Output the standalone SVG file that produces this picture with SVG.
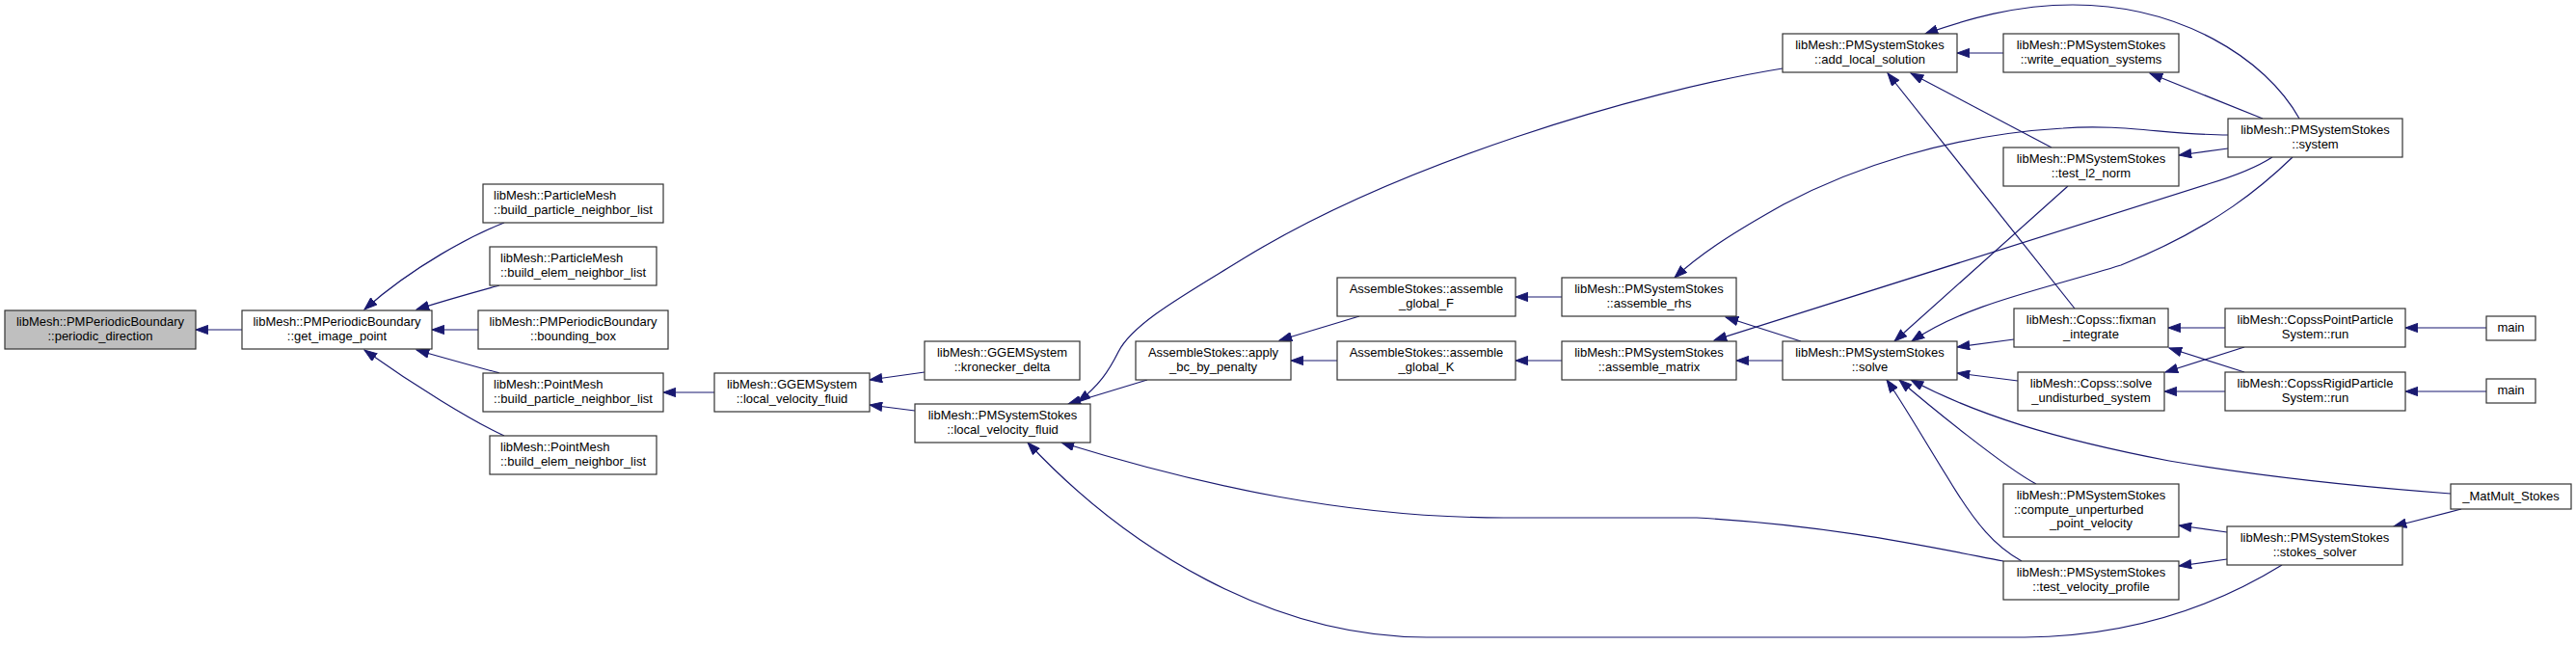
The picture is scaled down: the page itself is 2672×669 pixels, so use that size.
<svg xmlns="http://www.w3.org/2000/svg" width="2672" height="669" viewBox="0 0 2672 669">
<style>
.n rect{fill:#fff;stroke:#333;stroke-width:1.2}
.n.hl rect{fill:#bfbfbf}
.n text{font-family:"Liberation Sans",Arial,Helvetica,sans-serif;font-size:13px;fill:#000;text-anchor:middle}
.n text.l{text-anchor:start}
#edges path{fill:none;stroke:#191970;stroke-width:1.2;marker-end:url(#ah)}
</style>
<defs>
<marker id="ah" markerUnits="userSpaceOnUse" viewBox="0 0 14 10" refX="13.3" refY="5" markerWidth="14" markerHeight="10" orient="auto">
<path d="M0.5,0.4 L13.3,5 L0.5,9.6 z" fill="#191970" stroke="#191970" stroke-width="1"/>
</marker>
</defs>
<rect width="2672" height="669" fill="#fff"/>
<g id="edges">
<path d="M251,342 L203,342"/>
<path d="M523,231 C490,244 430,275 378,321"/>
<path d="M518,296 C500,301 470,309 432,321"/>
<path d="M496,342 L448,342"/>
<path d="M518,387 C500,382 470,374 432,363"/>
<path d="M523,452 C490,437 430,400 378,363"/>
<path d="M741,407 L688,407"/>
<path d="M959,386 L902,394"/>
<path d="M949,426 L902,420"/>
<path d="M1849,71 C1700,95 1450,170 1290,268 C1230,305 1175,335 1160,365 C1150,385 1140,400 1118,417"/>
<path d="M1190,394 L1108,419"/>
<path d="M2078,582 C2000,567 1900,545 1760,537 L1560,537 C1400,537 1250,505 1101,459"/>
<path d="M2367,586 C2320,615 2230,660 2100,661 L1480,661 C1320,661 1170,570 1066,459"/>
<path d="M1410,328 L1327,353"/>
<path d="M1387,374 L1339,374"/>
<path d="M1620,308 L1572,308"/>
<path d="M1620,374 L1572,374"/>
<path d="M1868,354 L1790,329"/>
<path d="M1849,374 L1801,374"/>
<path d="M2357,163 C2340,174 2320,182 2290,191 L1778,353"/>
<path d="M2311,140 C2250,140 2200,128 2140,133 C2020,140 1920,175 1850,212 C1800,240 1765,262 1737,288"/>
<path d="M2145,193 L1965,354"/>
<path d="M2378,163 C2350,190 2300,235 2200,275 C2120,300 2040,315 1983,354"/>
<path d="M2152,320 L1958,76"/>
<path d="M2128,153 L1982,76"/>
<path d="M2078,55 L2030,55"/>
<path d="M2385,123 C2350,60 2260,5 2150,5 C2090,5 2040,20 1997,35"/>
<path d="M2347,123 L2230,76"/>
<path d="M2311,154 L2260,161"/>
<path d="M2089,352 L2030,360"/>
<path d="M2093,395 L2030,387"/>
<path d="M2542,512 C2450,505 2350,495 2250,478 C2130,455 2050,430 1982,394"/>
<path d="M2112,502 C2080,485 2000,420 1970,394"/>
<path d="M2097,582 C2070,567 2050,545 2020,495 C1995,455 1975,420 1957,394"/>
<path d="M2308,340 L2249,340"/>
<path d="M2328,386 L2250,361"/>
<path d="M2328,360 L2246,386"/>
<path d="M2308,406 L2245,406"/>
<path d="M2310,552 L2260,545"/>
<path d="M2310,580 L2260,587"/>
<path d="M2553,528 L2483,546"/>
<path d="M2579,340 L2495,340"/>
<path d="M2579,406 L2495,406"/>
</g>
<g id="n_pd" class="n hl"><rect x="5" y="322" width="198" height="40"/><text x="104" y="338">libMesh::PMPeriodicBoundary</text><text x="104" y="353">::periodic_direction</text></g>
<g id="n_gip" class="n"><rect x="251" y="322" width="197" height="40"/><text x="349.5" y="338">libMesh::PMPeriodicBoundary</text><text x="349.5" y="353">::get_image_point</text></g>
<g id="n_pm_bpnl" class="n"><rect x="501" y="191" width="187" height="40"/><text class="l" x="512" y="207">libMesh::ParticleMesh</text><text x="594.5" y="222">::build_particle_neighbor_list</text></g>
<g id="n_pm_benl" class="n"><rect x="508" y="256" width="173" height="40"/><text class="l" x="519" y="272">libMesh::ParticleMesh</text><text x="594.5" y="287">::build_elem_neighbor_list</text></g>
<g id="n_bb" class="n"><rect x="496" y="322" width="197" height="40"/><text x="594.5" y="338">libMesh::PMPeriodicBoundary</text><text x="594.5" y="353">::bounding_box</text></g>
<g id="n_ptm_bpnl" class="n"><rect x="501" y="387" width="187" height="40"/><text class="l" x="512" y="403">libMesh::PointMesh</text><text x="594.5" y="418">::build_particle_neighbor_list</text></g>
<g id="n_ptm_benl" class="n"><rect x="508" y="452" width="173" height="40"/><text class="l" x="519" y="468">libMesh::PointMesh</text><text x="594.5" y="483">::build_elem_neighbor_list</text></g>
<g id="n_ggem_lvf" class="n"><rect x="741" y="387" width="161" height="40"/><text x="821.5" y="403">libMesh::GGEMSystem</text><text x="821.5" y="418">::local_velocity_fluid</text></g>
<g id="n_kd" class="n"><rect x="959" y="354" width="161" height="40"/><text x="1039.5" y="370">libMesh::GGEMSystem</text><text x="1039.5" y="385">::kronecker_delta</text></g>
<g id="n_pmss_lvf" class="n"><rect x="949" y="419" width="182" height="40"/><text x="1040" y="435">libMesh::PMSystemStokes</text><text x="1040" y="450">::local_velocity_fluid</text></g>
<g id="n_abc" class="n"><rect x="1178" y="354" width="161" height="40"/><text x="1258.5" y="370">AssembleStokes::apply</text><text x="1258.5" y="385">_bc_by_penalty</text></g>
<g id="n_agF" class="n"><rect x="1387" y="288" width="185" height="40"/><text x="1479.5" y="304">AssembleStokes::assemble</text><text x="1479.5" y="319">_global_F</text></g>
<g id="n_agK" class="n"><rect x="1387" y="354" width="185" height="40"/><text x="1479.5" y="370">AssembleStokes::assemble</text><text x="1479.5" y="385">_global_K</text></g>
<g id="n_rhs" class="n"><rect x="1620" y="288" width="181" height="40"/><text x="1710.5" y="304">libMesh::PMSystemStokes</text><text x="1710.5" y="319">::assemble_rhs</text></g>
<g id="n_mat" class="n"><rect x="1620" y="354" width="181" height="40"/><text x="1710.5" y="370">libMesh::PMSystemStokes</text><text x="1710.5" y="385">::assemble_matrix</text></g>
<g id="n_solve" class="n"><rect x="1849" y="354" width="181" height="40"/><text x="1939.5" y="370">libMesh::PMSystemStokes</text><text x="1939.5" y="385">::solve</text></g>
<g id="n_als" class="n"><rect x="1849" y="35" width="181" height="40"/><text x="1939.5" y="51">libMesh::PMSystemStokes</text><text x="1939.5" y="66">::add_local_solution</text></g>
<g id="n_wes" class="n"><rect x="2078" y="35" width="182" height="40"/><text x="2169" y="51">libMesh::PMSystemStokes</text><text x="2169" y="66">::write_equation_systems</text></g>
<g id="n_tl2" class="n"><rect x="2078" y="153" width="182" height="40"/><text x="2169" y="169">libMesh::PMSystemStokes</text><text x="2169" y="184">::test_l2_norm</text></g>
<g id="n_fix" class="n"><rect x="2089" y="320" width="160" height="40"/><text x="2169" y="336">libMesh::Copss::fixman</text><text x="2169" y="351">_integrate</text></g>
<g id="n_sus" class="n"><rect x="2093" y="386" width="152" height="40"/><text x="2169" y="402">libMesh::Copss::solve</text><text x="2169" y="417">_undisturbed_system</text></g>
<g id="n_cup" class="n"><rect x="2078" y="502" width="182" height="55"/><text x="2169" y="518">libMesh::PMSystemStokes</text><text class="l" x="2089" y="532.5">::compute_unperturbed</text><text x="2169" y="547">_point_velocity</text></g>
<g id="n_tvp" class="n"><rect x="2078" y="582" width="182" height="40"/><text x="2169" y="598">libMesh::PMSystemStokes</text><text x="2169" y="613">::test_velocity_profile</text></g>
<g id="n_system" class="n"><rect x="2311" y="123" width="181" height="40"/><text x="2401.5" y="139">libMesh::PMSystemStokes</text><text x="2401.5" y="154">::system</text></g>
<g id="n_cppr" class="n"><rect x="2308" y="320" width="187" height="40"/><text x="2401.5" y="336">libMesh::CopssPointParticle</text><text x="2401.5" y="351">System::run</text></g>
<g id="n_crpr" class="n"><rect x="2308" y="386" width="187" height="40"/><text x="2401.5" y="402">libMesh::CopssRigidParticle</text><text x="2401.5" y="417">System::run</text></g>
<g id="n_main1" class="n"><rect x="2579" y="328" width="51" height="25"/><text x="2604.5" y="344">main</text></g>
<g id="n_main2" class="n"><rect x="2579" y="393" width="51" height="25"/><text x="2604.5" y="409">main</text></g>
<g id="n_mms" class="n"><rect x="2542" y="502" width="125" height="26"/><text x="2604.5" y="519">_MatMult_Stokes</text></g>
<g id="n_ss" class="n"><rect x="2310" y="546" width="182" height="40"/><text x="2401" y="562">libMesh::PMSystemStokes</text><text x="2401" y="577">::stokes_solver</text></g>
</svg>
